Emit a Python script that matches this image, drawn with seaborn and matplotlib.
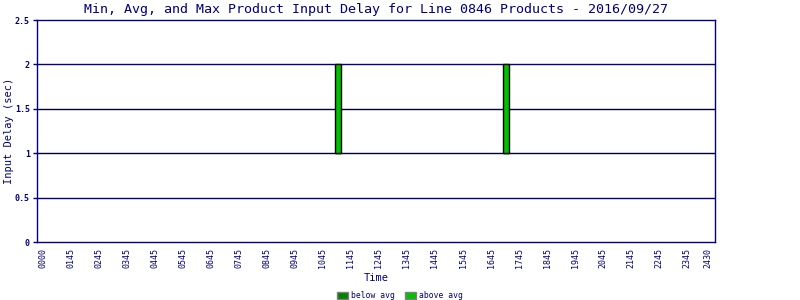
import matplotlib
matplotlib.use("Agg")
import matplotlib.pyplot as plt
import seaborn as sns
import numpy as np
import pandas as pd
from matplotlib.patches import Patch

# ---- data ----
time_labels = ["0000", "0145", "0245", "0345", "0445", "0545", "0645", "0745",
               "0845", "0945", "1045", "1145", "1245", "1345", "1445", "1545",
               "1645", "1745", "1845", "1945", "2045", "2145", "2245", "2345", "2430"]
tick_pos = list(range(24)) + [23.75]
bar_pos = [10.54, 16.54]
min_delay = [1.0, 1.0]
avg_delay = [1.0, 1.0]
max_delay = [2.0, 2.0]
y_ticks = [0, 0.5, 1, 1.5, 2, 2.5]
y_tick_labels = ["0", "0.5", "1", "1.5", "2", "2.5"]

NAVY = "#000080"
BELOW = "#008000"
ABOVE = "#00c000"

sns.set_theme(style="white")
plt.rcParams["font.family"] = ["DejaVu Sans Mono", "DejaVu Sans"]

df = pd.DataFrame({"pos": bar_pos, "min": min_delay, "avg": avg_delay, "max": max_delay})

fig = plt.figure(figsize=(8, 3), dpi=100)
ax = fig.add_axes([0.046, 0.193, 0.848, 0.74])

for y in [0.5, 1, 1.5, 2]:
    ax.axhline(y, color=NAVY if y in (0.5, 2) else "#000040", lw=1, zorder=1)

w = 0.2
ax.bar(df["pos"], df["avg"] - df["min"], bottom=df["min"], width=w,
       color=BELOW, edgecolor="black", linewidth=1, zorder=3)
ax.bar(df["pos"], df["max"] - df["avg"], bottom=df["avg"], width=w,
       color=ABOVE, edgecolor="black", linewidth=1, zorder=3)

ax.set_xlim(-0.21, 24.0)
ax.set_ylim(0, 2.5)
ax.set_xticks(tick_pos)
ax.set_xticklabels(time_labels, rotation=90, fontsize=6, color=NAVY)
ax.set_yticks(y_ticks)
ax.set_yticklabels(y_tick_labels, fontsize=6, color=NAVY, fontweight="bold")
ax.tick_params(axis="x", length=0, pad=4)
ax.tick_params(axis="y", length=3, width=1, color=NAVY, direction="out", left=True, pad=2)

for s in ax.spines.values():
    s.set_color(NAVY)
    s.set_linewidth(1)

ax.set_xlabel("Time", fontsize=7.5, color=NAVY, labelpad=4)
ax.set_ylabel("Input Delay (sec)", fontsize=7.5, color=NAVY, labelpad=0.5)
ax.set_title("Min, Avg, and Max Product Input Delay for Line 0846 Products - 2016/09/27",
             fontsize=9.6, color=NAVY, pad=5)

handles = [Patch(facecolor=BELOW, edgecolor="gray", label="below avg"),
           Patch(facecolor=ABOVE, edgecolor="gray", label="above avg")]
leg = fig.legend(handles=handles, loc="lower center", bbox_to_anchor=(0.5, -0.025),
                 ncol=2, frameon=False, fontsize=5.8, handlelength=1.4, handleheight=1.0,
                 columnspacing=1.2, handletextpad=0.4)
for t in leg.get_texts():
    t.set_color(NAVY)

fig.savefig("out.png", dpi=100)
